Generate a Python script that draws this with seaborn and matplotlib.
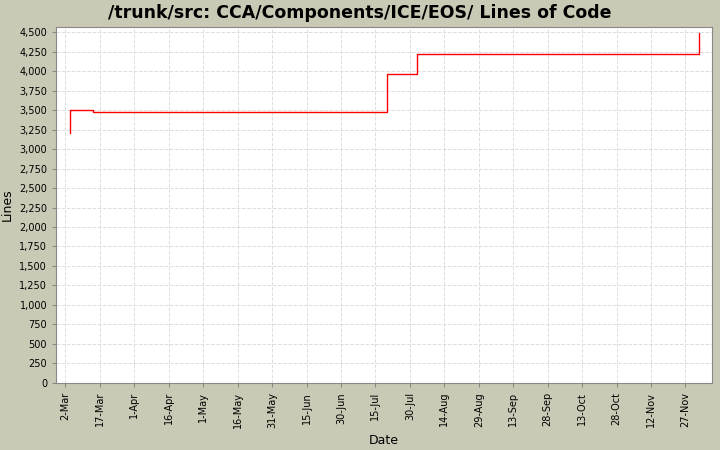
import matplotlib
matplotlib.use('agg')
import matplotlib.pyplot as plt
import matplotlib.dates as mdates
import matplotlib.ticker as mticker
import seaborn as sns
import pandas as pd

# step points
dates = ['2007-03-04', '2007-03-04', '2007-03-14', '2007-07-20', '2007-08-02',
         '2007-12-03', '2007-12-03']
lines = [3210, 3500, 3480, 3960, 4220, 4220, 4490]
tick_start, tick_end = '2007-03-02', '2007-11-27'

df = pd.DataFrame({'Date': pd.to_datetime(dates), 'Lines': lines})

fig = plt.figure(figsize=(7.2, 4.5), dpi=100, facecolor='#c9c9b5')
ax = fig.add_axes([0.078, 0.149, 0.911, 0.791])
ax.set_facecolor('white')

sns.lineplot(data=df, x='Date', y='Lines', ax=ax, color='red', linewidth=1,
             drawstyle='steps-post', estimator=None, sort=False)

ax.set_ylim(0, 4565)
ax.set_xlim(pd.Timestamp('2007-02-26'), pd.Timestamp('2007-12-08 14:00'))
ax.yaxis.set_major_locator(mticker.MultipleLocator(250))
ax.yaxis.set_major_formatter(mticker.FuncFormatter(lambda v, p: f'{int(v):,}'))
ticks = pd.date_range(tick_start, tick_end, freq='15D')
ax.set_xticks(ticks)
ax.xaxis.set_major_formatter(mdates.DateFormatter('%-d-%b'))
plt.setp(ax.get_xticklabels(), rotation=90)
ax.tick_params(labelsize=7, length=3, color='#888888')
ax.grid(True, color='#dddddd', linestyle='--', linewidth=0.7)
for s in ax.spines.values():
    s.set_color('#888888')
ax.set_xlabel('Date', fontsize=9)
ax.set_ylabel('Lines', fontsize=9)
fig.suptitle('/trunk/src: CCA/Components/ICE/EOS/ Lines of Code',
             fontsize=12.5, fontweight='bold', y=0.99)
fig.savefig('out.png', dpi=100, facecolor=fig.get_facecolor())
